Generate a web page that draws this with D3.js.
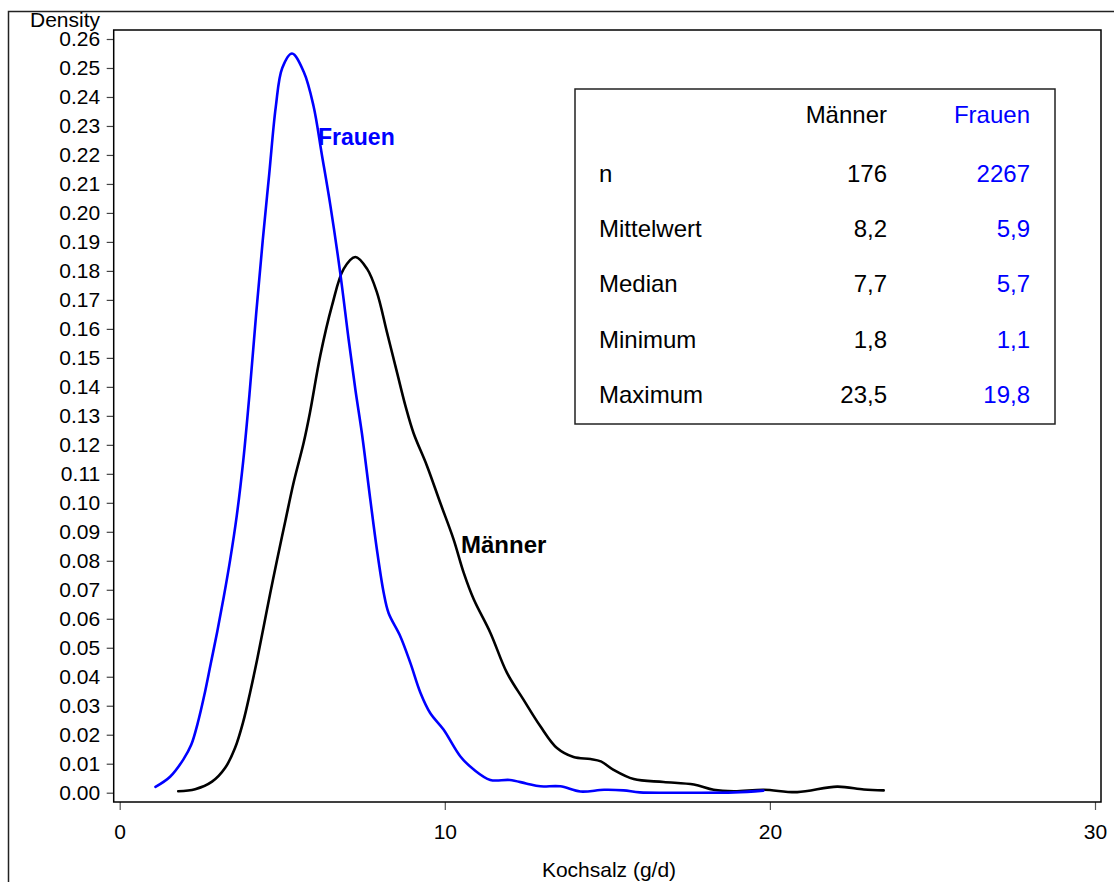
<!DOCTYPE html>
<html>
<head>
<meta charset="utf-8">
<script src="https://cdn.jsdelivr.net/npm/d3@7"></script>
<style>
  body { margin: 0; background: #fff; }
  svg { display: block; font-family: "Liberation Sans", Arial, sans-serif; }
</style>
</head>
<body>
<svg id="svg" width="1114" height="882"></svg>
<script>
// Kochsalz (g/d) values and density estimates
const xFrauen = [1.1, 1.55, 1.96, 2.2, 2.4, 2.6, 2.8, 3.0, 3.2, 3.4, 3.6, 3.8, 4.0, 4.2, 4.4, 4.6, 4.8, 5.0, 5.3, 5.66, 5.96, 6.22, 6.48, 6.78, 7.04, 7.25, 7.45, 7.71, 7.91, 8.12, 8.27, 8.63, 8.94, 9.25, 9.55, 9.96, 10.48, 10.89, 11.4, 12.0, 12.5, 12.94, 13.55, 14.17, 14.9, 15.5, 16.0, 17.25, 18.9, 19.8];
const dFrauen = [0.002, 0.0055, 0.0115, 0.0165, 0.024, 0.0335, 0.0445, 0.0555, 0.0675, 0.0805, 0.0955, 0.1145, 0.1385, 0.1655, 0.1905, 0.2135, 0.2365, 0.2500, 0.2550, 0.2487, 0.237, 0.220, 0.2026, 0.1796, 0.1565, 0.139, 0.124, 0.101, 0.084, 0.069, 0.062, 0.054, 0.0448, 0.0345, 0.0275, 0.0218, 0.0125, 0.008, 0.0044, 0.0044, 0.0032, 0.0022, 0.0022, 0.0004, 0.0010, 0.0008, 0.0001, 0.0, 0.0001, 0.0007];

const xMaenner = [1.8, 2.32, 2.84, 3.24, 3.55, 3.8, 4.01, 4.22, 4.42, 4.63, 4.84, 5.1, 5.35, 5.66, 5.85, 6.17, 6.53, 6.89, 7.25, 7.61, 7.91, 8.22, 8.53, 8.8, 9.04, 9.45, 9.86, 10.27, 10.58, 10.89, 11.4, 11.91, 12.42, 12.94, 13.45, 13.96, 14.48, 14.8, 15.19, 15.81, 16.73, 17.66, 18.27, 18.89, 19.81, 20.84, 22.07, 22.89, 23.5];
const dMaenner = [0.0005, 0.0012, 0.0038, 0.0085, 0.0155, 0.0245, 0.0345, 0.0455, 0.0568, 0.0688, 0.0803, 0.094, 0.107, 0.1208, 0.131, 0.1508, 0.168, 0.1807, 0.1848, 0.1807, 0.1727, 0.1589, 0.145, 0.133, 0.124, 0.1128, 0.100, 0.0874, 0.0759, 0.0667, 0.0552, 0.0414, 0.0321, 0.0229, 0.0154, 0.0123, 0.0116, 0.0108, 0.0079, 0.0047, 0.0037, 0.0028, 0.0010, 0.0005, 0.0010, 0.0002, 0.0021, 0.0011, 0.0008];

const xTicks = [0, 10, 20, 30];
const yTicks = d3.range(0, 27).map(i => i / 100);

// summary table
const statLabels = ['n', 'Mittelwert', 'Median', 'Minimum', 'Maximum'];
const statMaenner = ['176', '8,2', '7,7', '1,8', '23,5'];
const statFrauen = ['2267', '5,9', '5,7', '1,1', '19,8'];

const svg = d3.select('#svg');

const x = d3.scaleLinear().domain([0, 30]).range([119.7, 1095]);
const y = d3.scaleLinear().domain([0, 0.26]).range([792.7, 39]);

// outer border (top and left only visible)
svg.append('path')
  .attr('d', 'M8.5,882 L8.5,11.5 L1114,11.5')
  .attr('fill', 'none')
  .attr('stroke', '#222')
  .attr('stroke-width', 1.5);

// y axis
const yAxis = svg.append('g').attr('transform', 'translate(113.7,0)');
yAxis.call(d3.axisLeft(y).tickValues(d3.range(0, 26).map(i => i / 100 + 0.005)).tickSize(3).tickFormat(''));
yAxis.call(d3.axisLeft(y).tickValues(yTicks).tickSize(7).tickPadding(6.5).tickFormat(d3.format('.2f')));
yAxis.select('.domain').remove();
yAxis.selectAll('line').attr('stroke', '#444').attr('stroke-width', 1.2);
yAxis.selectAll('text').attr('font-size', 21).attr('fill', '#000').attr('font-family', '"Liberation Sans", Arial, sans-serif');

// x axis
const xAxis = svg.append('g').attr('transform', 'translate(0,802)');
xAxis.call(d3.axisBottom(x).tickValues(d3.range(0, 31)).tickSize(5).tickFormat(''));
xAxis.call(d3.axisBottom(x).tickValues(xTicks).tickSize(8).tickPadding(14.5).tickFormat(d3.format('d')));
xAxis.selectAll('.domain').remove();
xAxis.selectAll('line').attr('stroke', '#555').attr('stroke-width', 1.2);
xAxis.selectAll('text').attr('font-size', 21).attr('fill', '#000').attr('font-family', '"Liberation Sans", Arial, sans-serif');

// plot frame
svg.append('rect')
  .attr('x', 113.7).attr('y', 30)
  .attr('width', 1101 - 113.7).attr('height', 802 - 30)
  .attr('fill', 'none')
  .attr('stroke', '#000')
  .attr('stroke-width', 1.5);

// axis titles
svg.append('text')
  .attr('x', 100).attr('y', 27)
  .attr('text-anchor', 'end')
  .attr('font-size', 21)
  .text('Density');

svg.append('text')
  .attr('x', 609).attr('y', 877)
  .attr('text-anchor', 'middle')
  .attr('font-size', 21)
  .text('Kochsalz (g/d)');

// density curves
const line = d3.line()
  .x(d => x(d[0]))
  .y(d => y(d[1]))
  .curve(d3.curveCatmullRom.alpha(0.5));

svg.append('path')
  .datum(xMaenner.map((v, i) => [v, dMaenner[i]]))
  .attr('d', line)
  .attr('fill', 'none')
  .attr('stroke', '#000')
  .attr('stroke-width', 2.6)
  .attr('stroke-linecap', 'round');

svg.append('path')
  .datum(xFrauen.map((v, i) => [v, dFrauen[i]]))
  .attr('d', line)
  .attr('fill', 'none')
  .attr('stroke', '#0000ff')
  .attr('stroke-width', 2.6)
  .attr('stroke-linecap', 'round');

// curve labels
svg.append('text')
  .attr('x', 318).attr('y', 145)
  .attr('font-size', 23).attr('font-weight', 'bold')
  .attr('fill', '#0000ff')
  .text('Frauen');

svg.append('text')
  .attr('x', 461).attr('y', 553)
  .attr('font-size', 24).attr('font-weight', 'bold')
  .attr('fill', '#000')
  .text('Männer');

// table box
svg.append('rect')
  .attr('x', 575).attr('y', 89)
  .attr('width', 1055 - 575).attr('height', 424 - 89)
  .attr('fill', '#fff')
  .attr('stroke', '#222')
  .attr('stroke-width', 1.5);

const table = svg.append('g').attr('font-size', 24);

table.append('text').attr('x', 887).attr('y', 123).attr('text-anchor', 'end').attr('fill', '#000').text('Männer');
table.append('text').attr('x', 1030).attr('y', 123).attr('text-anchor', 'end').attr('fill', '#0000ff').text('Frauen');

const rowY = d3.scalePoint().domain(statLabels).range([181.7, 403]);

statLabels.forEach((lab, i) => {
  table.append('text').attr('x', 599).attr('y', rowY(lab)).attr('fill', '#000').text(lab);
  table.append('text').attr('x', 887).attr('y', rowY(lab)).attr('text-anchor', 'end').attr('fill', '#000').text(statMaenner[i]);
  table.append('text').attr('x', 1030).attr('y', rowY(lab)).attr('text-anchor', 'end').attr('fill', '#0000ff').text(statFrauen[i]);
});
</script>
</body>
</html>
